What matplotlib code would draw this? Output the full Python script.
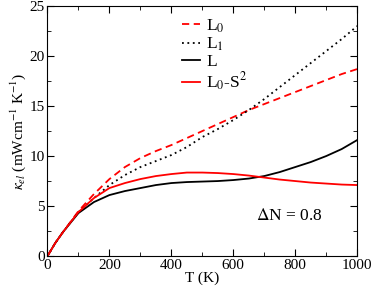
import numpy as np
import matplotlib
matplotlib.use("Agg")
import matplotlib.pyplot as plt
from matplotlib.ticker import MultipleLocator

plt.rcParams["font.family"] = ["Liberation Serif", "DejaVu Serif"]
plt.rcParams["mathtext.fontset"] = "stix"

# --- data ---
T = [0, 25, 50, 100, 150, 200, 250, 300, 350, 400, 450, 500, 550, 600, 650,
     700, 750, 800, 850, 900, 950, 1000]
L0 = [0, 1.3, 2.4, 4.5, 6.2, 7.7, 8.9, 9.8, 10.5, 11.1, 11.8, 12.5, 13.2, 13.9, 14.6,
      15.2, 15.8, 16.4, 17.0, 17.6, 18.2, 18.7]
L1 = [0, 1.3, 2.4, 4.4, 5.8, 7.1, 8.1, 8.9, 9.5, 10.1, 10.9, 11.9, 12.7, 13.6, 14.6,
      15.7, 16.9, 18.1, 19.3, 20.5, 21.7, 23.0]
L = [0, 1.3, 2.4, 4.3, 5.4, 6.1, 6.5, 6.8, 7.1, 7.3, 7.4, 7.45, 7.5, 7.6, 7.75,
     8.0, 8.4, 8.9, 9.4, 10.0, 10.7, 11.6]
L0_S2 = [0, 1.3, 2.4, 4.4, 5.8, 6.8, 7.3, 7.7, 8.0, 8.2, 8.35, 8.35, 8.3, 8.2, 8.05,
         7.85, 7.65, 7.5, 7.35, 7.25, 7.15, 7.1]

fig = plt.figure(figsize=(3.74, 2.89), dpi=100)
ax = fig.add_axes([0.127, 0.114, 0.828, 0.865])

ax.plot(T, L0, color="red", ls=(0, (4, 2.5)), lw=1.3, label="L$_0$")
ax.plot(T, L1, color="black", ls=(0, (1, 2)), lw=1.3, label="L$_1$")
ax.plot(T, L, color="black", lw=1.3, label="L")
ax.plot(T, L0_S2, color="red", lw=1.3, label="L$_0$-S$^2$")

ax.set_xlim(0, 1000)
ax.set_ylim(0, 25)
ax.xaxis.set_major_locator(MultipleLocator(200))
ax.xaxis.set_minor_locator(MultipleLocator(100))
ax.yaxis.set_major_locator(MultipleLocator(5))
ax.yaxis.set_minor_locator(MultipleLocator(2.5))
ax.tick_params(which="both", direction="in", top=True, right=True, labelsize=11, pad=2)
ax.tick_params(which="major", length=5)
ax.tick_params(which="minor", length=3)

ax.set_xlabel("T (K)", fontsize=11, labelpad=0)
ax.set_ylabel(r"$\kappa_{el}$ (mWcm$^{-1}$ K$^{-1}$)", fontsize=11, labelpad=1)

ax.text(782, 4.0, r"$\Delta$N = 0.8", fontsize=12.5, ha="center", va="center")

ax.legend(loc="upper left", bbox_to_anchor=(0.39, 1.01), frameon=False, fontsize=12.5,
          handlelength=1.0, handletextpad=0.4, labelspacing=0.05, borderpad=0.3)

plt.savefig("out.png", dpi=100)
